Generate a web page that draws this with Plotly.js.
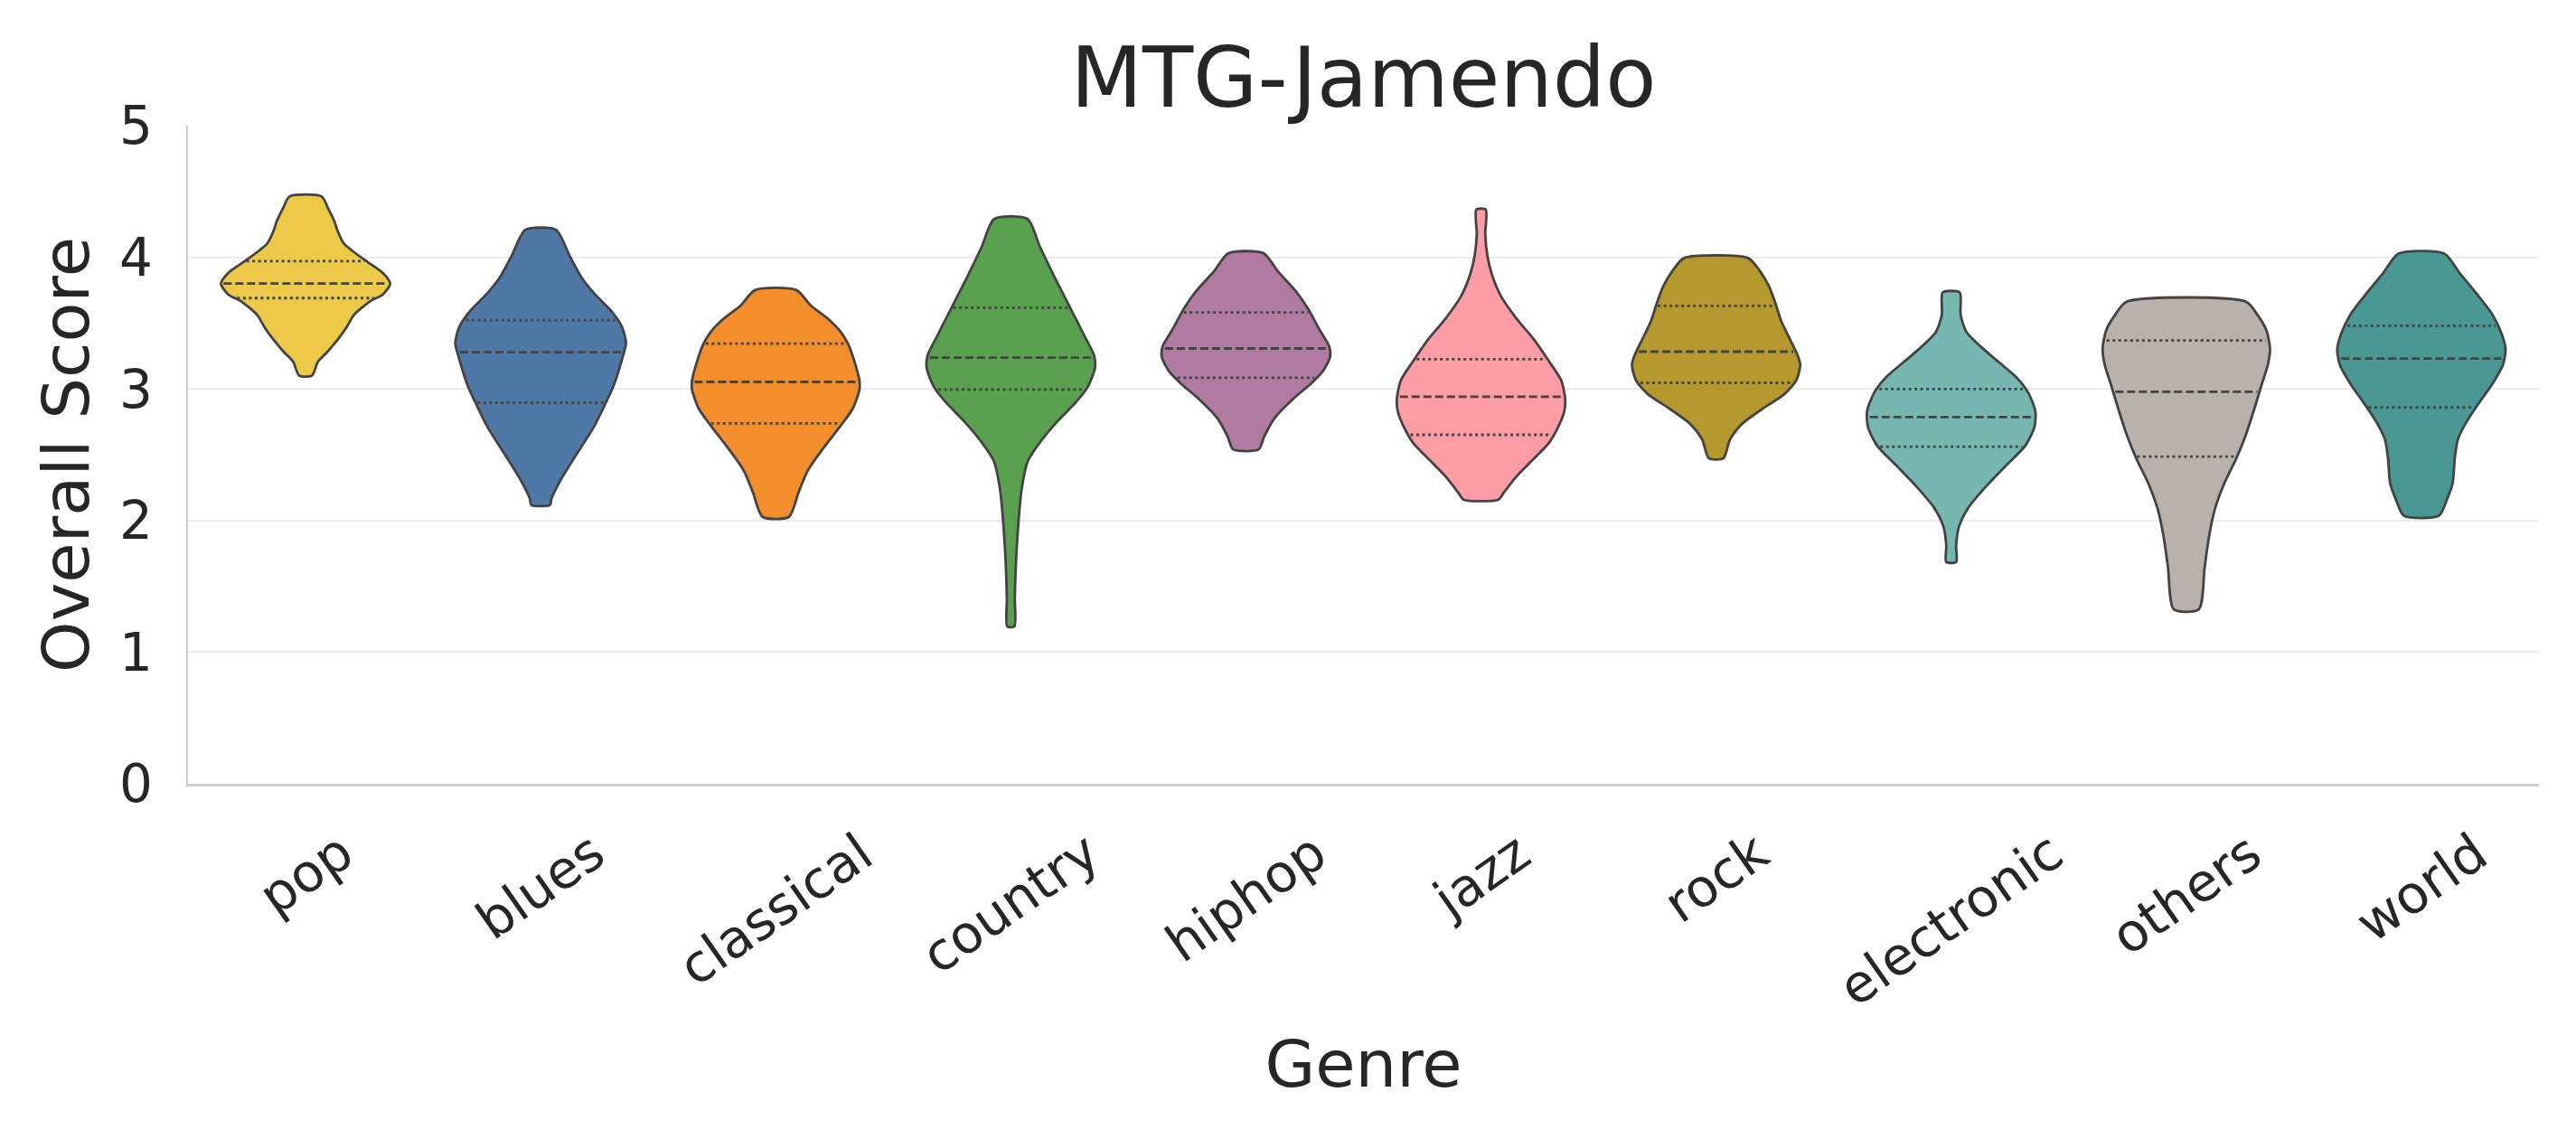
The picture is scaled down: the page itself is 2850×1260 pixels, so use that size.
<!DOCTYPE html>
<html><head><meta charset="utf-8">
<script src="https://cdn.plot.ly/plotly-3.0.1.min.js"></script>
<style>html,body{margin:0;padding:0;background:#fff;}#chart{width:2850px;height:1260px;}</style>
</head><body><div id="chart"></div>
<script>
// ---------------- data ----------------
const genres = ['pop','blues','classical','country','hiphop','jazz','rock','electronic','others','world'];
const colors = ['#EDC948','#4E79A7','#F28E2B','#59A14F','#B07AA1','#FF9DA7','#B6992D','#76B7B2','#BAB0AC','#499894'];
const yTicks = [0, 1, 2, 3, 4, 5];

// quartiles (inner="quartile")
const q3     = [3.97, 3.522, 3.344, 3.617, 3.581, 3.226, 3.631, 2.999, 3.368, 3.479];
const median = [3.80, 3.278, 3.053, 3.238, 3.307, 2.940, 3.283, 2.786, 2.978, 3.231];
const q1     = [3.69, 2.895, 2.738, 2.996, 3.084, 2.651, 3.046, 2.561, 2.485, 2.859];

// violin outlines: score levels (top -> bottom) and density half-widths (category units)
const popY = [4.462,4.367,4.272,4.201,4.107,4.047,3.964,3.882,3.799,3.716,3.669,3.562,3.467,3.373,3.278,3.207,3.101];
const popW = [0.068,0.097,0.123,0.136,0.162,0.200,0.264,0.328,0.360,0.328,0.277,0.206,0.174,0.136,0.091,0.053,0.027];

const bluesY = [4.208,4.012,3.846,3.728,3.586,3.467,3.349,3.231,3.018,2.895,2.710,2.473,2.308,2.166,2.118];
const bluesW = [0.065,0.123,0.174,0.226,0.303,0.347,0.363,0.347,0.309,0.277,0.226,0.142,0.085,0.046,0.040];

const classicalY = [3.751,3.633,3.527,3.432,3.337,3.207,3.065,2.994,2.852,2.722,2.544,2.379,2.213,2.028];
const classicalW = [0.088,0.149,0.226,0.277,0.309,0.335,0.356,0.356,0.328,0.277,0.200,0.136,0.097,0.056];

const countryY = [4.291,4.083,3.846,3.621,3.396,3.254,3.160,3.018,2.899,2.757,2.592,2.450,2.237,2.000,1.645,1.408,1.195];
const countryW = [0.071,0.123,0.187,0.251,0.315,0.354,0.358,0.328,0.277,0.200,0.123,0.072,0.046,0.033,0.021,0.017,0.015];

const hiphopY = [4.031,3.893,3.740,3.609,3.444,3.325,3.243,3.136,3.041,2.923,2.781,2.639,2.540];
const hiphopW = [0.074,0.136,0.213,0.264,0.315,0.354,0.358,0.328,0.277,0.200,0.123,0.078,0.054];

const jazzY = [4.362,4.178,4.012,3.870,3.704,3.538,3.373,3.207,3.065,2.923,2.828,2.710,2.592,2.450,2.331,2.213,2.159];
const jazzW = [0.020,0.018,0.027,0.046,0.085,0.149,0.226,0.290,0.341,0.358,0.354,0.328,0.290,0.213,0.149,0.097,0.074];

const rockY = [3.993,3.893,3.775,3.657,3.515,3.373,3.254,3.183,3.065,2.959,2.852,2.734,2.615,2.473];
const rockW = [0.137,0.187,0.226,0.251,0.277,0.315,0.347,0.358,0.341,0.290,0.200,0.110,0.059,0.031];

const electronicY = [3.733,3.562,3.432,3.325,3.207,3.089,2.970,2.828,2.710,2.568,2.426,2.260,2.095,1.953,1.811,1.685];
const electronicW = [0.036,0.040,0.065,0.123,0.200,0.277,0.328,0.358,0.354,0.315,0.238,0.149,0.072,0.033,0.021,0.021];

const othersY = [3.662,3.562,3.444,3.302,3.183,3.041,2.852,2.639,2.473,2.284,2.095,1.882,1.645,1.325];
const othersW = [0.254,0.303,0.341,0.356,0.347,0.322,0.290,0.251,0.213,0.162,0.123,0.097,0.078,0.053];

const worldY = [4.028,3.882,3.716,3.562,3.420,3.302,3.183,3.041,2.876,2.734,2.615,2.473,2.284,2.166,2.036];
const worldW = [0.097,0.162,0.238,0.303,0.341,0.358,0.347,0.303,0.238,0.187,0.155,0.142,0.133,0.110,0.074];

const outlineY = [popY, bluesY, classicalY, countryY, hiphopY, jazzY, rockY, electronicY, othersY, worldY];
const outlineW = [popW, bluesW, classicalW, countryW, hiphopW, jazzW, rockW, electronicW, othersW, worldW];

// ---------------- build traces ----------------
const edgeColor = '#434343';
function halfWidthAt(ys, ws, v) {
  for (let i = 0; i < ys.length - 1; i++) {
    if (v <= ys[i] && v >= ys[i + 1]) {
      const t = (ys[i] - v) / (ys[i] - ys[i + 1]);
      return ws[i] + t * (ws[i + 1] - ws[i]);
    }
  }
  return 0;
}

const traces = [];
genres.forEach((g, i) => {
  const ys = outlineY[i], ws = outlineW[i];
  const x = [], y = [];
  for (let k = 0; k < ys.length; k++) { x.push(i + ws[k]); y.push(ys[k]); }
  for (let k = ys.length - 1; k >= 0; k--) { x.push(i - ws[k]); y.push(ys[k]); }
  x.push(x[0]); y.push(y[0]);
  traces.push({
    type: 'scatter', mode: 'lines', x: x, y: y, name: g,
    fill: 'toself', fillcolor: colors[i],
    line: { color: edgeColor, width: 2.8, shape: 'spline', smoothing: 0.7 },
    hoverinfo: 'skip', showlegend: false
  });
  [[q3[i], '3px,3.5px'], [median[i], '9px,4px'], [q1[i], '3px,3.5px']].forEach(([q, dash]) => {
    const hw = halfWidthAt(ys, ws, q) * 0.97;
    traces.push({
      type: 'scatter', mode: 'lines', x: [i - hw, i + hw], y: [q, q],
      line: { color: edgeColor, width: 2.8, dash: dash },
      hoverinfo: 'skip', showlegend: false
    });
  });
});

const annotations = genres.map((g, i) => ({
  x: i, xref: 'x', y: 0, yref: 'paper', yanchor: 'top', xanchor: 'center',
  yshift: -38, textangle: -35, text: g, showarrow: false,
  font: { size: 58, family: 'DejaVu Sans', color: '#262626' }
}));

const layout = {
  width: 2850, height: 1260,
  margin: { l: 208, r: 41, t: 139, b: 393 },
  paper_bgcolor: '#ffffff', plot_bgcolor: '#ffffff',
  font: { family: 'DejaVu Sans', color: '#262626', size: 58 },
  showlegend: false,
  title: { text: 'MTG-Jamendo', font: { size: 92, color: '#262626' },
           x: 0.5, xref: 'paper', xanchor: 'center', y: 1 - 86 / 1260, yref: 'container', yanchor: 'middle' },
  xaxis: {
    range: [-0.5, 9.5], showgrid: false, zeroline: false, showticklabels: false,
    showline: true, linecolor: '#cccccc', linewidth: 2.5, ticks: '',
    title: { text: 'Genre', font: { size: 72, color: '#262626' }, standoff: 283 }
  },
  yaxis: {
    range: [0, 5], tickvals: yTicks, ticktext: yTicks.map(String),
    showgrid: true, gridcolor: '#ebebeb', gridwidth: 2, zeroline: false,
    showline: true, linecolor: '#cccccc', linewidth: 2.5,
    ticks: 'outside', ticklen: 25, tickcolor: 'rgba(0,0,0,0)',
    tickfont: { size: 58, color: '#262626' },
    title: { text: 'Overall Score', font: { size: 72, color: '#262626' }, standoff: 10 }
  },
  annotations: annotations
};

Plotly.newPlot('chart', traces, layout, { staticPlot: true });
</script>
</body></html>
